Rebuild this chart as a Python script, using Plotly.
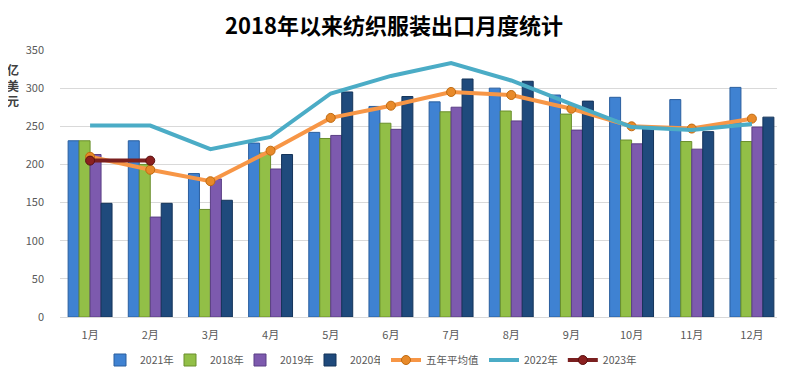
import plotly.graph_objects as go

months = ["1月", "2月", "3月", "4月", "5月", "6月", "7月", "8月", "9月", "10月", "11月", "12月"]
y2021 = [231, 231, 188, 228, 242, 276, 282, 300, 291, 288, 285, 301]
y2018 = [231, 200, 141, 215, 234, 254, 269, 270, 266, 232, 230, 230]
y2019 = [213, 131, 181, 194, 238, 246, 275, 257, 245, 227, 220, 249]
y2020 = [149, 149, 153, 213, 295, 289, 312, 309, 283, 247, 243, 262]
avg5 = [210, 193, 178, 218, 261, 277, 295, 291, 273, 250, 247, 260]
y2022 = [251, 251, 220, 236, 293, 316, 333, 310, 279, 249, 245, 253]
y2023 = [205, 205]

font_main = "Microsoft YaHei, Noto Sans CJK SC, sans-serif"

W, H = 777, 367

fig = go.Figure()
bar_specs = [
    ("2021年", y2021, "#3f82d2", "#2a5e9e"),
    ("2018年", y2018, "#92bf47", "#6a8f2c"),
    ("2019年", y2019, "#7d5aae", "#5b3f85"),
    ("2020年", y2020, "#1f4a7c", "#15345a"),
]
for name, vals, col, line in bar_specs:
    fig.add_trace(go.Bar(x=months, y=vals, name=name, legend="legend",
                         marker=dict(color=col, line=dict(color=line, width=1))))

fig.add_trace(go.Scatter(x=months, y=avg5, name="五年平均值", mode="lines+markers",
                         legend="legend2",
                         line=dict(color="#f79646", width=4),
                         marker=dict(size=9, color="#e88a2a", line=dict(color="#c06a10", width=1))))
fig.add_trace(go.Scatter(x=months, y=y2022, name="2022年", mode="lines", legend="legend2",
                         line=dict(color="#4bacc6", width=4)))
fig.add_trace(go.Scatter(x=months[:len(y2023)], y=y2023, name="2023年", mode="lines+markers",
                         legend="legend2",
                         line=dict(color="#7a1f1f", width=4),
                         marker=dict(size=9, color="#8b2020", line=dict(color="#5a1010", width=1))))

leg_common = dict(orientation="h", yanchor="middle", yref="container", xref="container",
                  xanchor="left", y=15 / H, font=dict(size=10.5, color="#595959"),
                  traceorder="normal", itemwidth=30, tracegroupgap=0,
                  bgcolor="rgba(0,0,0,0)")

fig.update_layout(
    width=W, height=H,
    margin=dict(l=52, r=3, t=42, b=58),
    paper_bgcolor="white", plot_bgcolor="white",
    barmode="group", bargap=0.27, bargroupgap=0.0,
    title=dict(text="<b>2018年以来纺织服装出口月度统计</b>", x=386 / W, xanchor="center",
               yref="container", y=1 - 18 / H, yanchor="middle",
               font=dict(size=22, color="#000000", family=font_main)),
    font=dict(family=font_main, color="#595959", size=11),
    xaxis=dict(showgrid=False, showline=True, linecolor="#d9d9d9", ticks="",
               tickfont=dict(size=11, color="#595959"), automargin=False,
               ticklabelstandoff=8, range=[-0.5, 11.5]),
    yaxis=dict(range=[0, 350], dtick=50, showgrid=True, gridcolor="#d9d9d9",
               zeroline=False, ticks="", tickfont=dict(size=11, color="#595959"),
               ticklabelstandoff=15, automargin=False),
    legend=dict(**leg_common, x=92 / W, entrywidth=25, entrywidthmode="pixels"),
    legend2=dict(**leg_common, x=378 / W),
    annotations=[dict(text="<b>亿<br>美<br>元</b>", xref="paper", yref="paper",
                      x=-0.065, y=0.87, xanchor="center", yanchor="middle",
                      showarrow=False,
                      font=dict(size=12, color="#404040", family=font_main))],
)

fig.write_html("out.html")
